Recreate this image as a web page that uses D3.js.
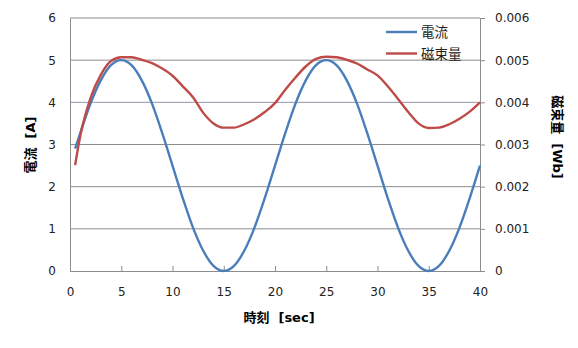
<!DOCTYPE html>
<html><head><meta charset="utf-8">
<script src="https://cdn.jsdelivr.net/npm/d3@7"></script>
<style>body{margin:0;background:#fff;} text{font-family:"DejaVu Sans","Noto Sans CJK JP",sans-serif;}</style>
</head><body>
<svg id="c" width="578" height="348"></svg>
<script>
const times   = [0.5,1,2,3,4,5,6,7,8,9,10,11,12,13,14,15,16,17,18,19,20,21,22,23,24,25,26,27,28,29,30,31,32,33,34,35,36,37,38,39,40];
const current = [2.9,3.27,3.97,4.52,4.88,5.0,4.88,4.52,3.97,3.27,2.5,1.73,1.03,0.48,0.12,0.0,0.12,0.48,1.03,1.73,2.5,3.27,3.97,4.52,4.88,5.0,4.88,4.52,3.97,3.27,2.5,1.73,1.03,0.48,0.12,0.0,0.12,0.48,1.03,1.73,2.5];
const flux    = [0.00251,0.00320,0.00410,0.00465,0.00498,0.00507,0.00507,0.00501,0.00493,0.00480,0.00463,0.00438,0.00412,0.00375,0.00350,0.00340,0.00340,0.00348,0.00360,0.00377,0.00398,0.00430,0.00459,0.00485,0.00503,0.00508,0.00507,0.00501,0.00492,0.00478,0.00464,0.00438,0.00408,0.00377,0.00350,0.00339,0.00340,0.00348,0.00361,0.00378,0.00400];
const xTicks  = [0,5,10,15,20,25,30,35,40];
const yTicks  = [0,1,2,3,4,5,6];
const y2Ticks = [0,0.001,0.002,0.003,0.004,0.005,0.006];
const seriesNames = ["電流","磁束量"];
const colors = ["#4a7ebb","#be4b48"];

const svg = d3.select("#c");
const L=70, R=480, T=18, B=271;
const x = d3.scaleLinear().domain([0,40]).range([L,R]);
const y = d3.scaleLinear().domain([0,6]).range([B,T]);
const y2 = d3.scaleLinear().domain([0,0.006]).range([B,T]);

// gridlines
svg.append("g").selectAll("line").data(yTicks.slice(1)).join("line")
  .attr("x1",L).attr("x2",R).attr("y1",d=>y(d)).attr("y2",d=>y(d))
  .attr("stroke",d=>d===4?"#9494ac":"#8c8c8c").attr("stroke-width",1);

// axes
const gx = svg.append("g").attr("transform",`translate(0,${B})`)
  .call(d3.axisBottom(x).tickValues(xTicks).tickSize(-5).tickPadding(16).tickFormat(d3.format("d")));
const gy = svg.append("g").attr("transform",`translate(${L},0)`)
  .call(d3.axisLeft(y).tickValues(yTicks).tickSize(0).tickPadding(14).tickFormat(d3.format("d")));
const gy2 = svg.append("g").attr("transform",`translate(${R},0)`)
  .call(d3.axisRight(y2).tickValues(y2Ticks).tickSize(5).tickPadding(10).tickFormat(d=>d===0?"0":d3.format(".3f")(d)));
[gx,gy,gy2].forEach(g=>{
  g.select(".domain").attr("stroke","#8c8c8c");
  g.selectAll(".tick line").attr("stroke","#8c8c8c");
  g.selectAll(".tick text").attr("fill","#222").style("font-size","12px");
});

// lines
const pts1 = times.map((t,i)=>[t,current[i]]);
const pts2 = times.map((t,i)=>[t,flux[i]]);
svg.append("path").datum(pts1).attr("fill","none").attr("stroke",colors[0]).attr("stroke-width",2.4)
  .attr("stroke-linejoin","round").attr("d",d3.line().curve(d3.curveMonotoneX).x(d=>x(d[0])).y(d=>y(d[1])));
svg.append("path").datum(pts2).attr("fill","none").attr("stroke",colors[1]).attr("stroke-width",2.4)
  .attr("stroke-linejoin","round").attr("d",d3.line().curve(d3.curveMonotoneX).x(d=>x(d[0])).y(d=>y2(d[1])));

// legend
const lg = svg.append("g");
seriesNames.forEach((n,i)=>{
  const yy = 32 + i*21.5;
  lg.append("line").attr("x1",386).attr("x2",417).attr("y1",yy).attr("y2",yy).attr("stroke",colors[i]).attr("stroke-width",2.4);
  lg.append("text").attr("x",421).attr("y",yy+5).text(n).style("font-size","13.5px").attr("fill","#222");
});

// axis titles
svg.append("text").attr("transform","translate(35,145) rotate(-90)").attr("text-anchor","middle")
  .style("font-size","13px").style("font-weight","bold").style("white-space","pre").text("電流  [A]");
svg.append("text").attr("transform","translate(553,137) rotate(90)").attr("text-anchor","middle")
  .style("font-size","13px").style("font-weight","bold").style("white-space","pre").text("磁束量  [Wb]");
svg.append("text").attr("x",279).attr("y",322).attr("text-anchor","middle")
  .style("font-size","13px").style("font-weight","bold").style("white-space","pre").text("時刻  [sec]");
</script>
</body></html>
